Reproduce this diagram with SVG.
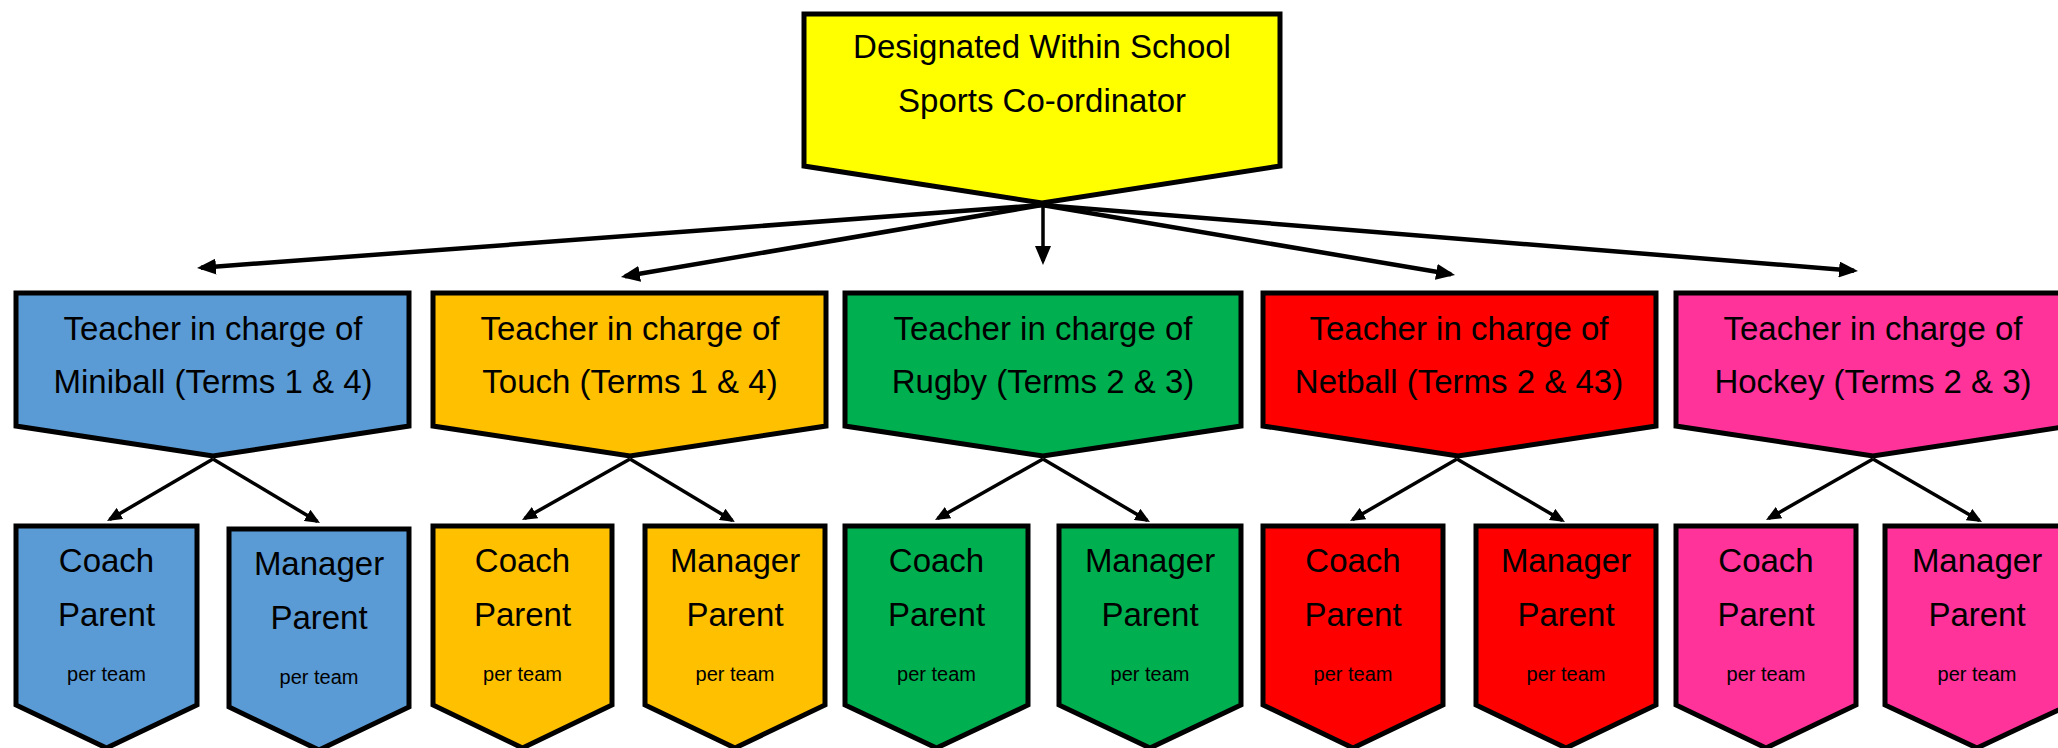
<svg xmlns="http://www.w3.org/2000/svg" width="2058" height="748" viewBox="0 0 2058 748">
<style>
  .box { stroke: #000; stroke-width: 5; stroke-linejoin: miter; stroke-miterlimit: 10; }
  .yellow { fill: #FFFF00; }
  .blue { fill: #5B9BD5; }
  .orange { fill: #FFC000; }
  .green { fill: #00B050; }
  .red { fill: #FF0000; }
  .pink { fill: #FF3399; }
  text { font-family: "Liberation Sans", Arial, sans-serif; fill: #000; text-anchor: middle; }
  .t { font-size: 33px; }
  .s { font-size: 20px; }
  .top { fill: none; stroke: #000; stroke-width: 4.5; }
  .vert { fill: none; stroke: #000; stroke-width: 3.5; }
  .sub { fill: none; stroke: #000; stroke-width: 3.5; }
</style>
<defs>
  <marker id="ah" markerUnits="userSpaceOnUse" markerWidth="19" markerHeight="16" refX="15" refY="8" orient="auto">
    <path d="M0,0 L19,8 L0,16 Z" fill="#000"/>
  </marker>
  <marker id="ahs" markerUnits="userSpaceOnUse" markerWidth="15" markerHeight="13" refX="12" refY="6.5" orient="auto">
    <path d="M0,0 L15,6.5 L0,13 Z" fill="#000"/>
  </marker>
</defs>

<g id="connectors">
  <line class="top" x1="1042" y1="205" x2="201" y2="267.7" marker-end="url(#ah)"/>
  <line class="top" x1="1042" y1="205" x2="624.9" y2="276.3" marker-end="url(#ah)"/>
  <line class="vert" x1="1043" y1="205" x2="1043" y2="261" marker-end="url(#ah)"/>
  <line class="top" x1="1042" y1="205" x2="1451.1" y2="274.3" marker-end="url(#ah)"/>
  <line class="top" x1="1042" y1="205" x2="1854" y2="270.7" marker-end="url(#ah)"/>

  <line class="sub" x1="213" y1="459" x2="109.6" y2="519.5" marker-end="url(#ahs)"/>
  <line class="sub" x1="213" y1="459" x2="317.4" y2="521.5" marker-end="url(#ahs)"/>
  <line class="sub" x1="630" y1="459" x2="524.6" y2="518.5" marker-end="url(#ahs)"/>
  <line class="sub" x1="630" y1="459" x2="732.4" y2="520.5" marker-end="url(#ahs)"/>
  <line class="sub" x1="1043" y1="459" x2="937.6" y2="518.5" marker-end="url(#ahs)"/>
  <line class="sub" x1="1043" y1="459" x2="1147.4" y2="520.5" marker-end="url(#ahs)"/>
  <line class="sub" x1="1457" y1="459" x2="1352.6" y2="519.5" marker-end="url(#ahs)"/>
  <line class="sub" x1="1457" y1="459" x2="1562.4" y2="520.5" marker-end="url(#ahs)"/>
  <line class="sub" x1="1873" y1="459" x2="1768.6" y2="518.5" marker-end="url(#ahs)"/>
  <line class="sub" x1="1873" y1="459" x2="1979.4" y2="520.5" marker-end="url(#ahs)"/>
</g>

<g id="coordinator">
  <path class="box yellow" d="M804,14 H1280 V166 L1042,203 L804,166 Z"/>
  <text class="t" x="1042" y="58">Designated Within School</text>
  <text class="t" x="1042" y="112">Sports Co-ordinator</text>
</g>

<g id="teacher-miniball">
  <path class="box blue" d="M16,293 H409 V426 L213,456 L16,426 Z"/>
  <text class="t" x="213" y="340">Teacher in charge of</text>
  <text class="t" x="213" y="393">Miniball (Terms 1 &amp; 4)</text>
</g>
<g id="teacher-touch">
  <path class="box orange" d="M433,293 H826 V426 L630,456 L433,426 Z"/>
  <text class="t" x="630" y="340">Teacher in charge of</text>
  <text class="t" x="630" y="393">Touch (Terms 1 &amp; 4)</text>
</g>
<g id="teacher-rugby">
  <path class="box green" d="M845,293 H1241 V426 L1043,456 L845,426 Z"/>
  <text class="t" x="1043" y="340">Teacher in charge of</text>
  <text class="t" x="1043" y="393">Rugby (Terms 2 &amp; 3)</text>
</g>
<g id="teacher-netball">
  <path class="box red" d="M1263,293 H1656 V426 L1458,456 L1263,426 Z"/>
  <text class="t" x="1459" y="340">Teacher in charge of</text>
  <text class="t" x="1459" y="393">Netball (Terms 2 &amp; 43)</text>
</g>
<g id="teacher-hockey">
  <path class="box pink" d="M1676,293 H2070 V426 L1873,456 L1676,426 Z"/>
  <text class="t" x="1873" y="340">Teacher in charge of</text>
  <text class="t" x="1873" y="393">Hockey (Terms 2 &amp; 3)</text>
</g>

<g id="coach-miniball">
  <path class="box blue" d="M16,526 H197 V705 L106.5,748 L16,705 Z"/>
  <text class="t" x="106.5" y="572">Coach</text>
  <text class="t" x="106.5" y="626">Parent</text>
  <text class="s" x="106.5" y="681">per team</text>
</g>
<g id="manager-miniball">
  <path class="box blue" d="M229,529 H409 V707 L319,750 L229,707 Z"/>
  <text class="t" x="319" y="575">Manager</text>
  <text class="t" x="319" y="629">Parent</text>
  <text class="s" x="319" y="684">per team</text>
</g>

<g id="coach-touch">
  <path class="box orange" d="M433,526 H612 V705 L522.5,748 L433,705 Z"/>
  <text class="t" x="522.5" y="572">Coach</text>
  <text class="t" x="522.5" y="626">Parent</text>
  <text class="s" x="522.5" y="681">per team</text>
</g>
<g id="manager-touch">
  <path class="box orange" d="M645,526 H825 V705 L735,748 L645,705 Z"/>
  <text class="t" x="735" y="572">Manager</text>
  <text class="t" x="735" y="626">Parent</text>
  <text class="s" x="735" y="681">per team</text>
</g>

<g id="coach-rugby">
  <path class="box green" d="M845,526 H1028 V705 L936.5,748 L845,705 Z"/>
  <text class="t" x="936.5" y="572">Coach</text>
  <text class="t" x="936.5" y="626">Parent</text>
  <text class="s" x="936.5" y="681">per team</text>
</g>
<g id="manager-rugby">
  <path class="box green" d="M1059,526 H1241 V705 L1150,748 L1059,705 Z"/>
  <text class="t" x="1150" y="572">Manager</text>
  <text class="t" x="1150" y="626">Parent</text>
  <text class="s" x="1150" y="681">per team</text>
</g>

<g id="coach-netball">
  <path class="box red" d="M1263,526 H1443 V705 L1353,748 L1263,705 Z"/>
  <text class="t" x="1353" y="572">Coach</text>
  <text class="t" x="1353" y="626">Parent</text>
  <text class="s" x="1353" y="681">per team</text>
</g>
<g id="manager-netball">
  <path class="box red" d="M1476,526 H1656 V705 L1566,748 L1476,705 Z"/>
  <text class="t" x="1566" y="572">Manager</text>
  <text class="t" x="1566" y="626">Parent</text>
  <text class="s" x="1566" y="681">per team</text>
</g>

<g id="coach-hockey">
  <path class="box pink" d="M1676,526 H1856 V705 L1766,748 L1676,705 Z"/>
  <text class="t" x="1766" y="572">Coach</text>
  <text class="t" x="1766" y="626">Parent</text>
  <text class="s" x="1766" y="681">per team</text>
</g>
<g id="manager-hockey">
  <path class="box pink" d="M1885,526 H2069 V705 L1977,748 L1885,705 Z"/>
  <text class="t" x="1977" y="572">Manager</text>
  <text class="t" x="1977" y="626">Parent</text>
  <text class="s" x="1977" y="681">per team</text>
</g>
</svg>
